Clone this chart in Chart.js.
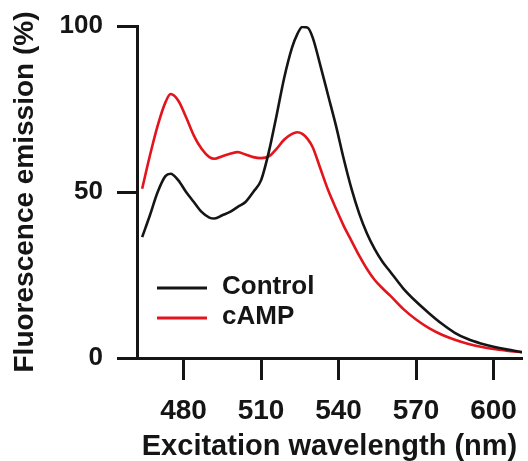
<!DOCTYPE html>
<html>
<head>
<meta charset="utf-8">
<script src="https://cdn.jsdelivr.net/npm/chart.js@4"></script>
<style>
  html, body { margin: 0; padding: 0; background: #fff; }
  #wrap { width: 528px; height: 461px; position: relative; }
</style>
</head>
<body>
<div id="wrap"><canvas id="spectra"></canvas></div>
<script>
// excitation wavelength (nm)
const wavelengths = [464, 467, 470, 473, 475, 478, 481, 484, 487, 490, 492, 495, 498, 501, 504, 507, 510, 513, 516, 519, 522, 524, 526, 528, 530, 533, 536, 539, 542, 545, 548, 551, 554, 557, 560, 565, 570, 575, 580, 585, 590, 595, 600, 605, 611];
// fluorescence emission (%)
const control = [36.4, 43, 50, 54.8, 55.5, 53.5, 50, 47, 44, 42.3, 42, 43, 44, 45.5, 47, 50, 53.5, 62, 73, 84.5, 93.5, 97.5, 99.7, 99.5, 96.5, 88, 79, 70, 60, 51, 43.5, 37.5, 32.8, 29, 26, 21, 17, 13.5, 10.3, 7.6, 5.7, 4.4, 3.4, 2.6, 1.8];
const camp = [51, 61, 70, 77, 79.5, 77.5, 72.5, 67, 63, 60.5, 60, 60.8, 61.5, 62, 61.3, 60.5, 60.2, 60.7, 63, 65.8, 67.5, 68, 67.5, 66, 63.5, 57, 50.5, 45, 39.8, 35.3, 30.8, 26.8, 23.5, 21, 18.8, 14.8, 11.6, 9, 7, 5.5, 4.3, 3.4, 2.7, 2.2, 1.7];
const xTicks = [480, 510, 540, 570, 600];
const yTicks = [0, 50, 100];

const ink = "#151515";

// legend drawn inside the plot, lower left
const insideLegend = {
  id: "insideLegend",
  afterDatasetsDraw(chart) {
    const { ctx, chartArea } = chart;
    ctx.save();
    ctx.font = "bold 26px 'Liberation Sans', Arial, sans-serif";
    ctx.textBaseline = "middle";
    chart.data.datasets.forEach((ds, i) => {
      const y = chartArea.bottom - 70 + i * 30;
      ctx.strokeStyle = ds.borderColor;
      ctx.lineWidth = 3;
      ctx.beginPath();
      ctx.moveTo(chartArea.left + 20, y);
      ctx.lineTo(chartArea.left + 70, y);
      ctx.stroke();
      ctx.fillStyle = ink;
      ctx.fillText(ds.label, chartArea.left + 85, y - 1);
    });
    ctx.restore();
  },
};

const ctx = document.getElementById("spectra").getContext("2d");
new Chart(ctx, {
  type: "line",
  data: {
    datasets: [
      {
        label: "Control",
        data: wavelengths.map((w, i) => ({ x: w, y: control[i] })),
        borderColor: ink,
      },
      {
        label: "cAMP",
        data: wavelengths.map((w, i) => ({ x: w, y: camp[i] })),
        borderColor: "#e3141c",
      },
    ],
  },
  options: {
    responsive: true,
    maintainAspectRatio: false,
    devicePixelRatio: 1,
    animation: false,
    layout: { padding: { top: 26, right: 6, left: 0, bottom: 0 } },
    elements: {
      point: { radius: 0 },
      line: { borderWidth: 2.6, cubicInterpolationMode: "monotone" },
    },
    scales: {
      x: {
        type: "linear",
        min: 462,
        max: 611,
        afterBuildTicks: (scale) => {
          scale.ticks = xTicks.map((v) => ({ value: v }));
        },
        afterFit: (scale) => {
          scale.height = 103;
          scale.paddingLeft = 0;
          scale.paddingRight = 0;
        },
        border: { display: true, color: ink, width: 3 },
        grid: { drawOnChartArea: false, tickLength: 22, tickWidth: 3, tickColor: ink },
        ticks: {
          color: ink,
          padding: 14,
          maxRotation: 0,
          font: { family: "'Liberation Sans', Arial, sans-serif", size: 28, weight: "bold" },
        },
        title: {
          display: true,
          text: "Excitation wavelength (nm)",
          color: ink,
          padding: { top: 0, bottom: 0 },
          font: { family: "'Liberation Sans', Arial, sans-serif", size: 29, weight: "bold", lineHeight: 1 },
        },
      },
      y: {
        min: 0,
        max: 100,
        afterBuildTicks: (scale) => {
          scale.ticks = yTicks.map((v) => ({ value: v }));
        },
        afterFit: (scale) => {
          scale.width = 137;
          scale.paddingTop = 0;
          scale.paddingBottom = 0;
        },
        border: { display: true, color: ink, width: 3 },
        grid: { drawOnChartArea: false, tickLength: 20, tickWidth: 3, tickColor: ink },
        ticks: {
          color: ink,
          padding: 14,
          font: { family: "'Liberation Sans', Arial, sans-serif", size: 26, weight: "bold" },
        },
        title: {
          display: true,
          text: "Fluorescence emission (%)",
          color: ink,
          padding: { top: 8, bottom: 0 },
          font: { family: "'Liberation Sans', Arial, sans-serif", size: 28, weight: "bold" },
        },
      },
    },
    plugins: {
      legend: { display: false },
      tooltip: { enabled: false },
    },
  },
  plugins: [insideLegend],
});
</script>
</body>
</html>
